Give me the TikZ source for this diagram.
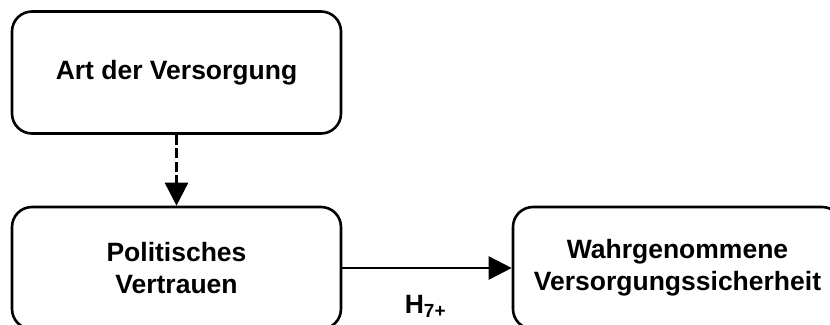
\documentclass[tikz,border=0pt]{standalone}
\usepackage{fontspec}
\setmainfont{Liberation Sans}
\usetikzlibrary{arrows.meta}
\begin{document}
\begin{tikzpicture}[x=1pt,y=-1pt,
  box/.style={draw=black, line width=2.6pt, rounded corners=20pt, fill=white,
    minimum width=329pt, minimum height=122pt, inner sep=0pt, align=center,
    font=\fontsize{26.5pt}{32pt}\selectfont\bfseries},
  conn/.style={line width=2.6pt, -{Triangle[length=23pt,width=23pt]}},
  lbl/.style={font=\fontsize{26.5pt}{32pt}\selectfont\bfseries, inner sep=0pt}]
\useasboundingbox (0,0) rectangle (830,324);
\clip (0,0) rectangle (830,324);
\node[box] (art) at (176.5,72.5) {Art der Versorgung};
\node[box] (pol) at (176.5,268) {Politisches\\Vertrauen};
\node[box] (wahr) at (677.5,268) {Wahrgenommene\\Versorgungssicherheit};
\draw[conn, dash pattern=on 10pt off 3.5pt] (art) -- (pol);
\draw[conn] (pol) -- (wahr);
\node[lbl, anchor=base] (h) at (425.5,313) {H\textsubscript{\fontsize{19pt}{20pt}\selectfont 7+}};
\end{tikzpicture}
\end{document}
